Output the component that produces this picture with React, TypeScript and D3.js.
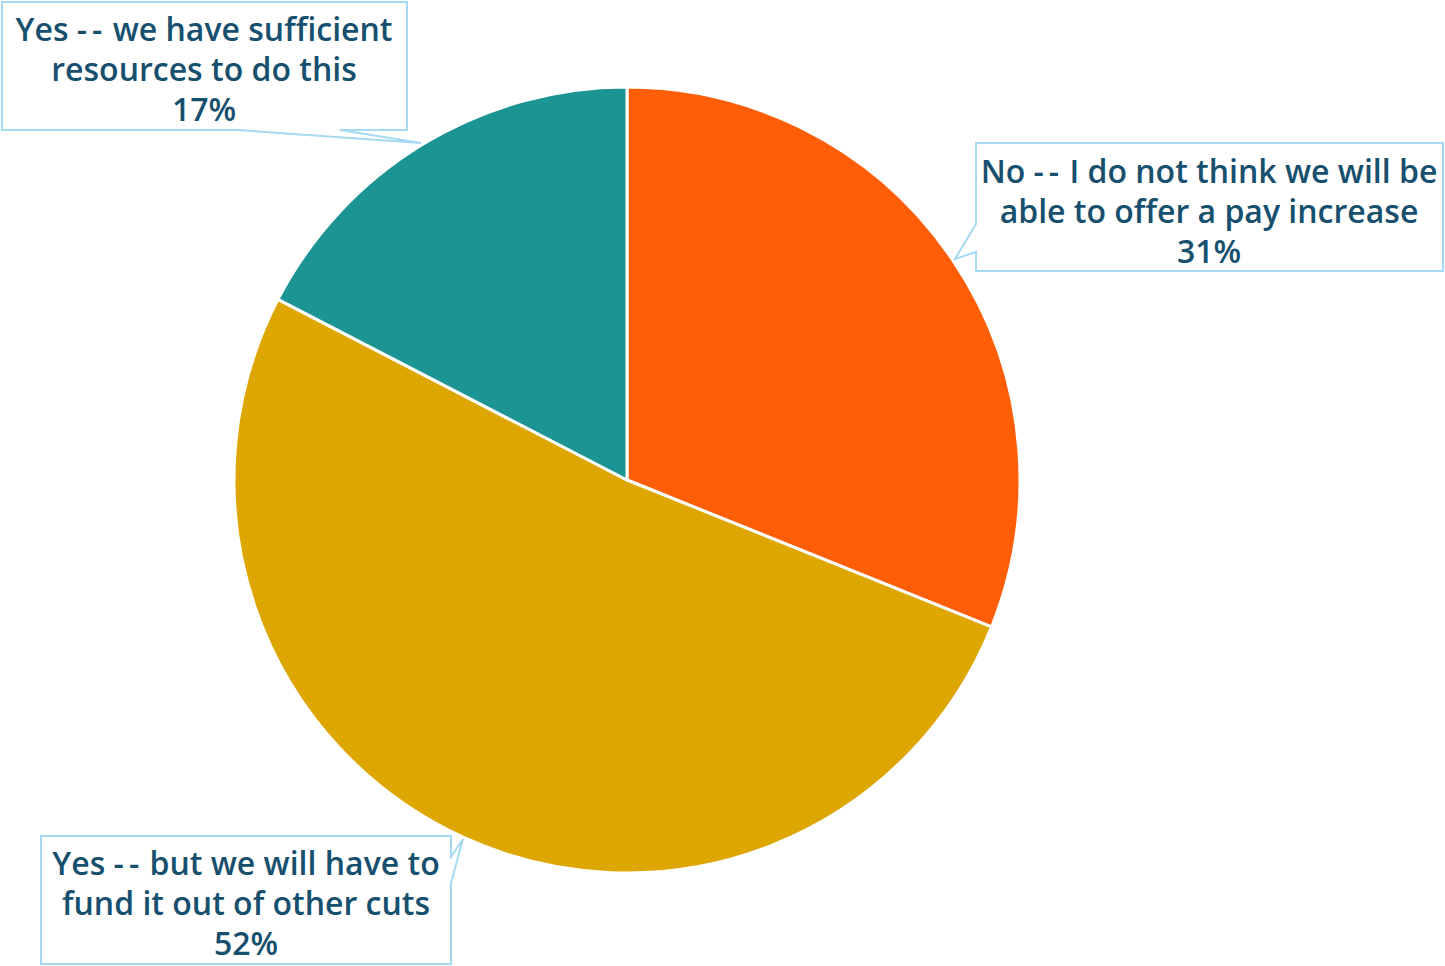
import React from "react";
import * as d3 from "d3";

const categories = [
  "No -- I do not think we will be able to offer a pay increase",
  "Yes -- but we will have to fund it out of other cuts",
  "Yes -- we have sufficient resources to do this",
];
const values = [31.1, 51.5, 17.4];
const colors = ["#FF5E07", "#DEA600", "#1D9494"];
const labelLines = [
  ["No -- I do not think we will be", "able to offer a pay increase", "31%"],
  ["Yes -- but we will have to", "fund it out of other cuts", "52%"],
  ["Yes -- we have sufficient", "resources to do this", "17%"],
];

const W = 1445;
const H = 966;
const cx = 627;
const cy = 480;
const R = 393;

// callout geometry (box + pointer)
const callouts = [
  { x0: 976, y0: 143, x1: 1443, y1: 271, path: (b: any) => `M${b.x0},${b.y0}H${b.x1}V${b.y1}H${b.x0}V252L955,259L${b.x0},224Z`, tx: 1209, ty: 170 },
  { x0: 41, y0: 836, x1: 451, y1: 964, path: (b: any) => `M${b.x0},${b.y0}H${b.x1}V857L463,839L${b.x1},883V${b.y1}H${b.x0}Z`, tx: 246, ty: 862 },
  { x0: 2, y0: 2, x1: 407, y1: 130, path: (b: any) => `M${b.x0},${b.y0}H${b.x1}V${b.y1}H340L421,143L238,${b.y1}H${b.x0}Z`, tx: 204, ty: 28 },
];

function renderLine(t: string) {
  // widen the double dash like the reference
  const parts = t.split("--");
  if (parts.length === 1) return t;
  return (
    <>
      {parts[0]}
      <tspan letterSpacing={5}>-</tspan>
      <tspan letterSpacing={2}>-</tspan>
      {parts[1]}
    </>
  );
}

export default function App() {
  const pie = d3.pie<number>().sort(null).value((d) => d);
  const arcs = pie(values);
  const arc = d3.arc<d3.PieArcDatum<number>>().innerRadius(0).outerRadius(R);
  return (
    <svg width={W} height={H} style={{ position: "absolute", left: 0, top: 0, background: "#fff" }}>
      <g transform={`translate(${cx},${cy})`}>
        {arcs.map((a, i) => (
          <path key={categories[i]} d={arc(a) || ""} fill={colors[i]} stroke="#fff" strokeWidth={3} strokeLinejoin="round" />
        ))}
      </g>
      {callouts.map((c, i) => (
        <g key={i}>
          <path d={c.path(c)} fill="#fff" stroke="#A6D9F2" strokeWidth={2} />
          {labelLines[i].map((t, j) => (
            <text
              key={j}
              x={c.tx}
              y={c.ty + j * 40}
              textAnchor="middle"
              dominantBaseline="central"
              fontFamily="'Open Sans', sans-serif"
              fontWeight={600}
              fontSize={32}
              fill="#17506E"
            >
              {renderLine(t)}
            </text>
          ))}
        </g>
      ))}
    </svg>
  );
}
